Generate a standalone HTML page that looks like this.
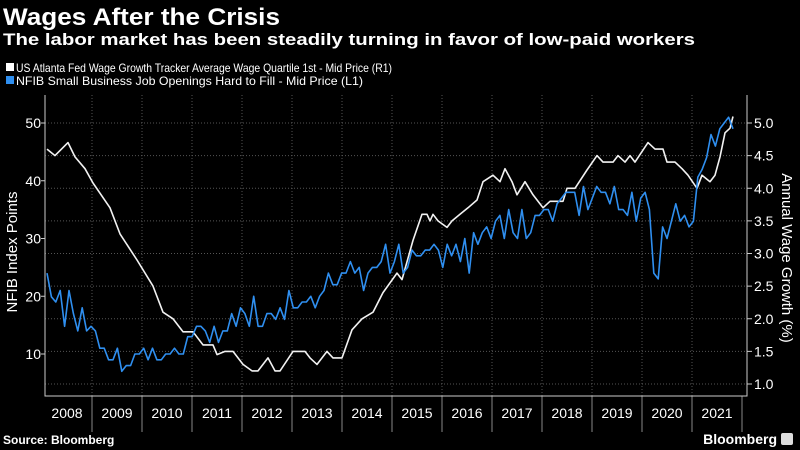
<!DOCTYPE html>
<html><head><meta charset="utf-8"><style>
html,body{margin:0;padding:0;background:#000;width:800px;height:450px;overflow:hidden}
svg{display:block;font-family:"Liberation Sans","DejaVu Sans",sans-serif}
</style></head><body>
<svg id="chart" width="800" height="450" viewBox="0 0 800 450">
<rect x="0" y="0" width="800" height="450" fill="#000"/>
<text x="3" y="25" font-size="24" font-weight="bold" fill="#fff" textLength="277" lengthAdjust="spacingAndGlyphs">Wages After the Crisis</text>
<text x="3" y="45" font-size="17" font-weight="bold" fill="#fff" textLength="692" lengthAdjust="spacingAndGlyphs">The labor market has been steadily turning in favor of low-paid workers</text>
<g>
<rect x="6" y="63" width="8" height="8" fill="#fff"/>
<text x="16" y="72" font-size="12" fill="#fff" textLength="376" lengthAdjust="spacingAndGlyphs">US Atlanta Fed Wage Growth Tracker Average Wage Quartile 1st - Mid Price (R1)</text>
<rect x="6" y="76" width="8" height="8" fill="#2f8ff0"/>
<text x="16" y="85" font-size="12" fill="#fff" textLength="347" lengthAdjust="spacingAndGlyphs">NFIB Small Business Job Openings Hard to Fill - Mid Price (L1)</text>
</g>
<g id="grid"></g>
<g id="axes"></g>
<g id="series"></g>
<text transform="translate(17,252) rotate(-90)" text-anchor="middle" font-size="15" fill="#fff">NFIB Index Points</text>
<text transform="translate(782,258) rotate(90)" text-anchor="middle" font-size="15" fill="#fff">Annual Wage Growth (%)</text>
<text x="3" y="444" font-size="12" font-weight="bold" fill="#fff">Source: Bloomberg</text>
<text x="777" y="444" text-anchor="end" font-size="14" font-weight="bold" fill="#fff">Bloomberg</text>
<rect x="781" y="433" width="12" height="12" rx="2" fill="#ddd"/>
</svg>
<script>
const years = [2008,2009,2010,2011,2012,2013,2014,2015,2016,2017,2018,2019,2020,2021];
const leftTicks = [10,20,30,40,50];
const rightTicks = [1.0,1.5,2.0,2.5,3.0,3.5,4.0,4.5,5.0];
const wageDates = [2008.1,2008.26,2008.52,2008.66,2008.86,2009.02,2009.36,2009.56,2009.9,2010.22,2010.42,2010.62,2010.82,2011.02,2011.22,2011.42,2011.5,2011.66,2011.82,2012.02,2012.2,2012.32,2012.52,2012.66,2012.76,2013.02,2013.26,2013.36,2013.5,2013.7,2013.82,2014.0,2014.2,2014.4,2014.62,2014.82,2014.96,2015.1,2015.2,2015.42,2015.6,2015.7,2015.76,2015.82,2015.92,2016.1,2016.2,2016.36,2016.52,2016.7,2016.82,2017.02,2017.16,2017.26,2017.4,2017.5,2017.66,2017.82,2018.02,2018.16,2018.42,2018.5,2018.66,2018.9,2019.1,2019.22,2019.42,2019.52,2019.66,2019.76,2019.86,2020.12,2020.26,2020.42,2020.5,2020.66,2020.8,2020.92,2021.1,2021.2,2021.36,2021.46,2021.56,2021.66,2021.76,2021.82];
const wageValues = [4.6,4.5,4.7,4.48,4.3,4.08,3.7,3.3,2.9,2.5,2.1,2.0,1.8,1.8,1.6,1.6,1.45,1.5,1.5,1.3,1.2,1.2,1.4,1.2,1.2,1.5,1.5,1.4,1.3,1.5,1.4,1.4,1.83,2.0,2.1,2.4,2.55,2.7,2.6,3.2,3.6,3.6,3.5,3.6,3.5,3.4,3.5,3.6,3.7,3.82,4.1,4.2,4.1,4.3,4.1,3.9,4.1,3.9,3.7,3.8,3.8,4.0,4.0,4.28,4.5,4.4,4.4,4.5,4.4,4.5,4.4,4.7,4.6,4.6,4.4,4.4,4.3,4.2,4.0,4.2,4.1,4.2,4.48,4.85,4.92,5.1];
const nfibStart = 2008.1;
const nfibEnd = 2021.82;
const nfibValues = [24,19.9,19,21,14.8,21,17,14,18,14,14.8,14,11,11,9,9,11,7,8,8,10,10,11,9,11,9,9,10,10,11,10,10,13,13,14.8,14.8,14,12,14.8,12,14,14,17,14.8,18,17,14.8,20,14.8,14.8,17,17,16,18,16,21,18,18,19,19,20,18,20,21,24,22,22,24,24,26,24,25,21,24,25,25,26,29,24,26,29,24,25,28,27,27,28,28,29,28,25,29,27,29,26,30,24,31,29,31,32,30,33,34,30,35,31,30,35,30,31,34,34,35,35,33,36,37,38,38,38,34,39,35,37,39,38,38,36,39,35,35,34,38,33,37,38,35,24,23,32,30,33,36,33,34,32,33,40.6,42,44,48,46,49,50,51,49];

const NS = "http://www.w3.org/2000/svg";
const X0 = 42, YEARW = 50, PL = 45, PR = 747, PT = 95, PB = 396;
function xs(t){ return X0 + (t - 2008) * YEARW; }
function yl(v){ return 354 - (v - 10) * 5.775; }
function yr(v){ return 123 + (5 - v) * 65.25; }
function mk(tag, attrs, parent){ const e = document.createElementNS(NS, tag); for (const k in attrs) e.setAttribute(k, attrs[k]); parent.appendChild(e); return e; }
const grid = document.getElementById('grid'), axes = document.getElementById('axes'), series = document.getElementById('series');

rightTicks.forEach(v => {
  const g = mk('line', {x1:PL, x2:PR, y1:yr(v), y2:yr(v), stroke:'#555', 'stroke-dasharray':'1,2', 'stroke-width':1}, grid);
  
  
  const tk = mk('line', {x1:PR, x2:PR+5, y1:yr(v), y2:yr(v), stroke:'#ccc'}, axes);
  
  
  const t = mk('text', {x:PR+7, y:yr(v)+5, 'font-size':14, fill:'#fff'}, axes);
  t.textContent = v.toFixed(1);
  
  
});
leftTicks.forEach(v => {
  const tk = mk('line', {x1:PL-4, x2:PL, y1:yl(v), y2:yl(v), stroke:'#ccc'}, axes);
  
  
  const t = mk('text', {x:PL-4, y:yl(v)+5, 'font-size':14, fill:'#fff', 'text-anchor':'end'}, axes);
  t.textContent = v;
  
  
});
years.forEach((y, i) => {
  const xb = xs(y + 1);
  if (i < years.length - 1) {
    const g = mk('line', {x1:xb, x2:xb, y1:PT, y2:PB, stroke:'#555', 'stroke-dasharray':'1,2'}, grid);
    
    
  }
  const s = mk('line', {x1:xb, x2:xb, y1:PB, y2:432, stroke:'#888'}, axes);
  
  
  const t = mk('text', {x:xs(y + 0.5), y:418, 'font-size':14, fill:'#fff', 'text-anchor':'middle'}, axes);
  t.textContent = y;
  
  
});
const ax1 = mk('path', {d:`M${PL},${PT}V${PB}H${PR}V${PT}`, fill:'none', stroke:'#ccc', 'stroke-width':1}, axes);



const wpts = wageDates.map((d, i) => xs(d).toFixed(1) + ',' + yr(wageValues[i]).toFixed(1)).join(' ');
const wl = mk('polyline', {points:wpts, fill:'none', stroke:'#f2f2f2', 'stroke-width':1.6, 'stroke-linejoin':'round'}, series);



const n = nfibValues.length;
const bpts = nfibValues.map((v, i) => xs(nfibStart + (nfibEnd - nfibStart) * i / (n - 1)).toFixed(1) + ',' + yl(v).toFixed(1)).join(' ');
const bl = mk('polyline', {points:bpts, fill:'none', stroke:'#2f8ff0', 'stroke-width':1.6, 'stroke-linejoin':'round'}, series);


</script>
</body></html>
